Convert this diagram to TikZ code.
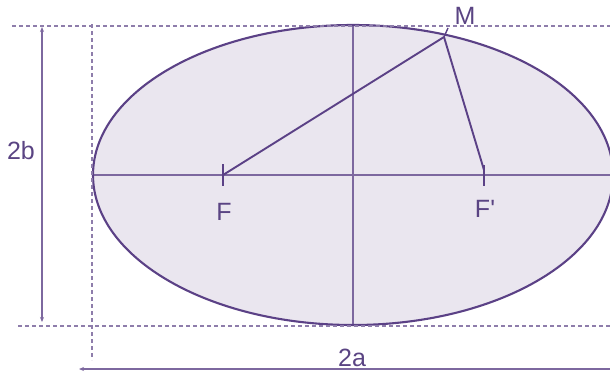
\documentclass[tikz,border=0pt]{standalone}
\usepackage{fontspec}
\setmainfont{Liberation Sans}
\usetikzlibrary{arrows.meta}
\definecolor{edgec}{HTML}{5B4186}
\definecolor{fillc}{HTML}{EAE6EF}
\definecolor{axisc}{HTML}{7D689F}
\definecolor{guidec}{HTML}{8E7DAB}
\definecolor{txtc}{HTML}{5A4483}
\tikzset{
  guide/.style={draw=guidec, line width=1.3pt, dash pattern=on 4pt off 3pt},
  axisline/.style={draw=axisc, line width=1.6pt},
  seg/.style={draw=edgec, line width=1.9pt},
  dim/.style={draw=axisc, line width=1.5pt, -{Stealth[length=5pt,width=4pt]}},
  lbl/.style={text=txtc, font=\fontsize{25}{27}\selectfont, inner sep=0pt}
}
\begin{document}
\begin{tikzpicture}[x=1pt,y=-1pt]
\useasboundingbox (0,0) rectangle (610,376);
\clip (0,0) rectangle (610,376);
% ellipse
\fill[fillc] (353,175) ellipse [x radius=260, y radius=150];
\coordinate (L) at (93,175);
\coordinate (R) at (613,175);
\coordinate (T) at (353,25);
\coordinate (B) at (353,325);
\draw[axisline] (L) -- (R);
\draw[axisline] (T) -- (B);
\draw[draw=edgec, line width=2.1pt] (353,175) ellipse [x radius=260, y radius=150];
% guides
\coordinate (g1a) at (12,26); \coordinate (g1b) at (612,26);
\coordinate (g2a) at (18,326); \coordinate (g2b) at (612,326);
\coordinate (g3a) at (92,24); \coordinate (g3b) at (92,360);
\draw[guide] (g1a) -- (g1b);
\draw[guide] (g2a) -- (g2b);
\draw[guide] (g3a) -- (g3b);
% dimension arrows
\coordinate (d1a) at (42,178); \coordinate (d1t) at (42,27); \coordinate (d1b) at (42,322);
\draw[dim] (d1a) -- (d1t);
\draw[dim] (d1a) -- (d1b);
\coordinate (d2a) at (620,369); \coordinate (d2b) at (79,369);
\draw[dim] (d2a) -- (d2b);
% foci and point
\coordinate (F) at (223,175);
\coordinate (Fp) at (484,170);
\coordinate (M) at (444,37);
\coordinate (Ft1) at (223,164); \coordinate (Ft2) at (223,186);
\coordinate (Fpt1) at (484,165); \coordinate (Fpt2) at (484,186);
\coordinate (Mt) at (448,28);
\draw[seg] (Ft1) -- (Ft2);
\draw[seg] (Fpt1) -- (Fpt2);
\draw[seg] (F) -- (M);
\draw[seg] (M) -- (Fp);
\draw[seg, line width=1.4pt] (M) -- (Mt);
% labels
\node[lbl] (lF) at (224,212) {F};
\node[lbl] (lFp) at (485,209) {F\textquotesingle};
\node[lbl] (lM) at (465,16) {M};
\node[lbl] (l2b) at (21,151) {2b};
\node[lbl] (l2a) at (352,358) {2a};
\end{tikzpicture}
\end{document}
